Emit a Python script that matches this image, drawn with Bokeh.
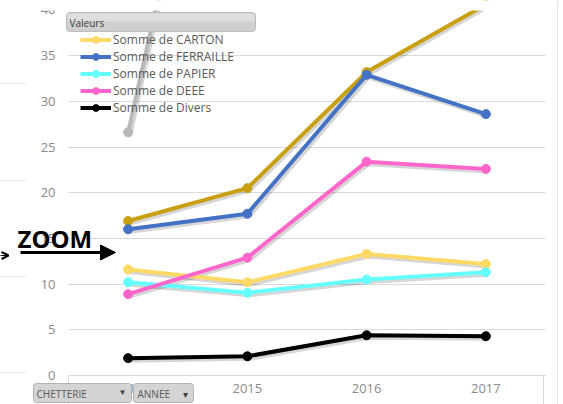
from bokeh.plotting import figure
from bokeh.models import (ColumnDataSource, Range1d, FixedTicker, SingleIntervalTicker, Legend,
                          LegendItem, BoxAnnotation, Label, Arrow, NormalHead, OpenHead)
from bokeh.transform import dodge
from bokeh.embed import file_html
from bokeh.resources import INLINE

# ---- data ----
years = ["2014", "2015", "2016", "2017"]
total = [16.9, 20.5, 33.2, 40.6]          # gold series (its legend entry is not visible)
carton = [11.6, 10.2, 13.3, 12.2]
ferraille = [16.0, 17.7, 32.9, 28.6]
papier = [10.2, 9.05, 10.5, 11.3]
deee = [8.9, 12.9, 23.4, 22.6]
divers = [1.9, 2.1, 4.4, 4.3]
gray_years = ["2014", "2015"]
gray_vals = [26.6, 85.3]                  # grey series running off the top
y_tick_step = 5

FONT = "Open Sans"
W, H = 563, 404

idx = {y: i for i, y in enumerate(years)}

# the frame covers the whole canvas; axes are pinned inside it
p = figure(width=W, height=H, output_backend="svg", toolbar_location=None,
           x_range=Range1d(-1.0702, 3.6510), y_range=Range1d(-3.173, 41.03),
           min_border=0)
p.outline_line_color = None
p.background_fill_color = "white"
p.border_fill_color = "white"

p.yaxis.fixed_location = -0.5
p.yaxis.ticker = SingleIntervalTicker(interval=y_tick_step)
p.yaxis.axis_line_color = None
for ax in (p.xaxis[0], p.yaxis[0]):
    ax.major_tick_line_color = None
    ax.minor_tick_line_color = None
    ax.major_tick_out = 0
    ax.major_tick_in = 0
    ax.minor_tick_out = 0
    ax.minor_tick_in = 0
    ax.major_label_text_color = "#8a8a8a"
    ax.major_label_text_font = FONT
    ax.major_label_text_font_size = "13px"
p.yaxis.major_label_standoff = 13

p.xaxis.fixed_location = 0
p.xaxis.bounds = (-0.5, len(years) - 0.5)
p.xaxis.ticker = FixedTicker(ticks=list(range(len(years))))
p.xaxis.major_label_overrides = {i: y for i, y in enumerate(years)}
p.xaxis.axis_line_color = "#d9d9d9"
p.xaxis.major_label_standoff = 9

p.xgrid.grid_line_color = None
p.ygrid.grid_line_color = "#d9d9d9"
p.ygrid.cross_bounds = (-0.5, len(years) - 0.5)

series = [
    (None, gray_years, gray_vals, "#b8b8b8"),
    (None, years, total, "#c9a012"),
    ("Somme de CARTON", years, carton, "#ffd966"),
    ("Somme de FERRAILLE", years, ferraille, "#4472c4"),
    ("Somme de PAPIER", years, papier, "#66ffff"),
    ("Somme de DEEE", years, deee, "#ff66cc"),
    ("Somme de Divers", years, divers, "#000000"),
]

sources = [ColumnDataSource(dict(x=[idx[c] for c in xs], y=ys)) for _, xs, ys, _ in series]

# soft drop shadows
for src in sources:
    p.line(x=dodge("x", 0.015), y=dodge("y", -0.22), source=src,
           line_color="black", line_alpha=0.16, line_width=5, line_join="round")

items = []
for (name, xs, ys, color), src in zip(series, sources):
    lr = p.line(x="x", y="y", source=src, line_color=color, line_width=4, line_join="round")
    sr = p.scatter(x="x", y="y", source=src, size=9, fill_color=color, line_color=color)
    if name:
        items.append(LegendItem(label=name, renderers=[lr, sr]))


def sx(px):
    return px


def sy(py):
    return H - py


legend = Legend(items=items, location=(80, sy(115.5)), orientation="vertical",
                padding=0, margin=0, spacing=0, glyph_width=31, glyph_height=17,
                label_height=17, label_standoff=2, label_text_font=FONT,
                label_text_font_size="12px", label_text_color="#595959",
                border_line_color=None, background_fill_alpha=0)
p.add_layout(legend)


def box(l, r, t, b, fill, line=None, radius=0):
    bx = BoxAnnotation(left=sx(l), right=sx(r), top=sy(t), bottom=sy(b),
                       left_units="screen", right_units="screen",
                       top_units="screen", bottom_units="screen",
                       fill_color=fill, fill_alpha=1,
                       line_color=line, line_alpha=1 if line else 0, line_width=1,
                       border_radius=radius)
    p.add_layout(bx)


def label(px, py, text, size, color="#404040", style="normal", baseline="middle", align="left"):
    p.add_layout(Label(x=sx(px), y=sy(py), x_units="screen", y_units="screen", text=text,
                       text_font=FONT, text_font_size=size, text_color=color,
                       text_font_style=style, text_baseline=baseline, text_align=align))


# white band where the screenshot was cut at the top
box(0, W, -1, 10, "white")

# "Valeurs" header box of the legend
box(66, 255, 12, 31, "#cfcfcf", "#bdbdbd", 3)
box(67, 254, 13, 21, "#dedede")
label(69, 22, "Valeurs", "10px")

# category-axis box edges and chart border
box(67.5, 68.5, 375, 404, "#d9d9d9")
box(542.5, 543.5, 375, 404, "#d9d9d9")
box(556.5, 557.5, 0, 404, "#e3e3e3")

# field buttons
box(33, 131, 383, 402, "#d4d4d4", "#b3b3b3", 3)
label(36, 393, "CHETTERIE", "10px", color="#595959")
label(122, 391, "\u25bc", "8px", color="#404040", align="center")
box(133, 193, 383, 402, "#d4d4d4", "#b3b3b3", 3)
label(137, 393, "ANNEE", "10px", color="#595959")
label(185, 393, "\u25be", "10px", color="#404040", align="center")

# faint gridlines of the neighbouring picture
for gy in [83, 180, 276, 372]:
    box(0, 25, gy - 0.5, gy + 0.5, "#e0e0e0")

# ZOOM annotation
label(17, 238, "ZOOM", "24px", color="black", style="bold", baseline="alphabetic")
p.add_layout(Arrow(end=NormalHead(size=15, fill_color="black", line_color="black"),
                   x_start=sx(20), y_start=sy(252), x_end=sx(115), y_end=sy(252),
                   start_units="screen", end_units="screen",
                   line_color="black", line_width=3))
p.add_layout(Arrow(end=OpenHead(size=7, line_color="black", line_width=2),
                   x_start=sx(-6), y_start=sy(255), x_end=sx(8), y_end=sy(255),
                   start_units="screen", end_units="screen",
                   line_color="black", line_width=1))

open("out.html", "w").write(file_html(p, INLINE))
